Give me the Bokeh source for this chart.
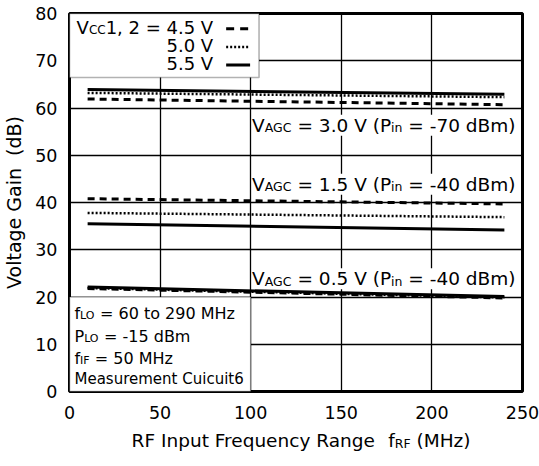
from bokeh.plotting import figure
from bokeh.layouts import column
from bokeh.models import Label, BoxAnnotation, Range1d, FixedTicker
from bokeh.core.properties import value
from bokeh.embed import file_html
from bokeh.resources import INLINE

# ---------------- data ----------------
freq = [10, 240]                      # MHz (line end points)
# VAGC = 3.0 V (Pin = -70 dBm)
g30_45 = [61.9, 60.7]
g30_50 = [63.2, 62.3]
g30_55 = [63.9, 62.9]
# VAGC = 1.5 V (Pin = -40 dBm)
g15_45 = [40.8, 39.7]
g15_50 = [37.8, 36.9]
g15_55 = [35.5, 34.2]
# VAGC = 0.5 V (Pin = -40 dBm)
g05_45 = [21.8, 19.8]
g05_50 = [21.9, 19.9]
g05_55 = [22.1, 20.1]

x_ticks = [0, 50, 100, 150, 200, 250]
y_ticks = [0, 10, 20, 30, 40, 50, 60, 70, 80]

FONT = "DejaVu Sans"
DASH = "7 5"
DOT = "2 2"

# layout of the frame (canvas pixels)
FL, FR, FT, FB = 68, 522, 13, 391
WIDTH = 539
H1, H2 = 424, 42          # main chart + strip holding the x-axis title
XS = (FR - FL) / 250.0
YS = (FB - FT) / 80.0

# DejaVu Sans advance widths (em)
W = {' ': .318, '(': .390, ')': .390, ',': .318, '-': .361, '.': .318, '=': .838,
     'A': .684, 'B': .686, 'C': .698, 'F': .575, 'G': .775, 'I': .295, 'L': .557,
     'M': .863, 'O': .787, 'P': .603, 'R': .695, 'V': .684, 'H': .752,
     'a': .613, 'c': .550, 'd': .635, 'e': .615, 'f': .352, 'i': .278, 'm': .974,
     'n': .634, 'o': .612, 'r': .411, 's': .521, 't': .392, 'u': .634, 'z': .525,
     'g': .635, 'l': .278, 'y': .592, 'q': .635, 'p': .635}
for d in "0123456789":
    W[d] = .636


def tw(s, size):
    return sum(W.get(c, .6) for c in s) * size


p = figure(width=WIDTH, height=H1, x_range=Range1d(0, 250), y_range=Range1d(0, 80),
           output_backend="svg", toolbar_location=None,
           min_border_left=FL, min_border_right=WIDTH - FR,
           min_border_top=FT, min_border_bottom=H1 - FB)
p.background_fill_color = "white"
p.border_fill_color = "white"
p.outline_line_color = "black"
p.outline_line_width = 3

p.xaxis.ticker = FixedTicker(ticks=x_ticks)
p.yaxis.ticker = FixedTicker(ticks=y_ticks)
for ax in (p.xaxis[0], p.yaxis[0]):
    ax.axis_line_color = None
    ax.major_tick_line_color = None
    ax.minor_tick_line_color = None
    ax.major_label_text_font = FONT
    ax.major_label_text_font_size = "17.5px"
    ax.major_label_text_color = "black"
p.xaxis.major_label_standoff = 8
p.yaxis.major_label_standoff = 6
p.yaxis.axis_label = "Voltage Gain\u00a0\u00a0(dB)"
p.yaxis.axis_label_text_font = FONT
p.yaxis.axis_label_text_font_size = "19px"
p.yaxis.axis_label_text_font_style = "normal"
p.yaxis.axis_label_text_color = "black"
p.yaxis.axis_label_standoff = 7

p.grid.grid_line_color = "black"
p.grid.grid_line_width = 1.3
p.grid.grid_line_alpha = 1.0


def rich(xpx, base_px, pieces, align="left", bg=False):
    """pieces drawn side by side; xpx / base_px are canvas pixels (baseline)."""
    total = sum(tw(t, s) for t, s in pieces)
    off = 0 if align == "left" else (-total if align == "right" else -total / 2)
    xd = (xpx - FL) / XS
    for t, s in pieces:
        lead = len(t) - len(t.lstrip(' '))
        txt = t.strip(' ')
        kw = {}
        if bg:
            kw = dict(background_fill_color="white", background_fill_alpha=1.0)
        cy = base_px - 0.36 * s          # visual centre of the capitals
        lab = Label(x=xd, y=(FB - cy) / YS, x_offset=off + tw(t[:lead], s), text=txt,
                    text_font=FONT, text_font_size=f"{s}px", text_color="black",
                    text_align="left", text_baseline="middle", **kw)
        p.add_layout(lab)
        off += tw(t, s)


# boxes
p.add_layout(BoxAnnotation(left=0, right=104.6, bottom=(FB - 77) / YS, top=80, fill_color="white",
                           fill_alpha=1.0, line_color="black", line_width=1.6, level="underlay"))
p.add_layout(BoxAnnotation(left=0, right=100, bottom=0, top=20, fill_color="white",
                           fill_alpha=1.0, line_color="black", line_width=1.6, level="underlay"))

# VAGC labels (white background over grid)
BIG, SM = 18.5, 12.5
rich(515, 131.5, [("V", BIG), ("AGC", SM), (" = 3.0 V (P", BIG), ("in", SM), (" = -70 dBm)", BIG)],
     align="right", bg=True)
rich(515, 190.5, [("V", BIG), ("AGC", SM), (" = 1.5 V (P", BIG), ("in", SM), (" = -40 dBm)", BIG)],
     align="right", bg=True)
rich(515, 285, [("V", BIG), ("AGC", SM), (" = 0.5 V (P", BIG), ("in", SM), (" = -40 dBm)", BIG)],
     align="right", bg=True)

# data lines (drawn above the label backgrounds)
series = [(g30_45, DASH, 3), (g30_50, DOT, 2.5), (g30_55, None, 3),
          (g15_45, DASH, 3), (g15_50, DOT, 2.5), (g15_55, None, 3),
          (g05_45, DASH, 3), (g05_50, DOT, 2.5), (g05_55, None, 3)]
for ys, dash, lw in series:
    kw = dict(line_dash=dash) if dash else {}
    p.line(freq, ys, line_color="black", line_width=lw, level="overlay", **kw)

# legend
rich(212, 33.5, [("V", 18), ("CC", 12), ("1, 2 = 4.5 V", 18)], align="right")
rich(212, 51.5, [("5.0 V", 18)], align="right")
rich(212, 69.5, [("5.5 V", 18)], align="right")
sx0, sx1 = (225 - FL) / XS, (249 - FL) / XS
p.line([sx0, sx1], [(FB - 28.3) / YS] * 2, line_color="black", line_width=3, line_dash="8 6")
p.line([sx0, sx1], [(FB - 46.5) / YS] * 2, line_color="black", line_width=2.5, line_dash=DOT)
p.line([sx0, sx1], [(FB - 64.5) / YS] * 2, line_color="black", line_width=3)

# info box text
rich(73, 319, [("f", 16), ("LO", 11), (" = 60 to 290 MHz", 16)])
rich(73, 342, [("P", 16), ("LO", 11), (" = -15 dBm", 16)])
rich(73, 363.5, [("f", 16), ("IF", 11), (" = 50 MHz", 16)])
rich(73, 384, [("Measurement Cuicuit6", 15)])

# ---- strip below the chart holding the x-axis title (same x mapping as the chart) ----
p2 = figure(width=WIDTH, height=H2, x_range=Range1d(0, 250), y_range=Range1d(0, H2),
            output_backend="svg", toolbar_location=None,
            min_border_left=FL, min_border_right=WIDTH - FR, min_border_top=0, min_border_bottom=0)
p2.xaxis.visible = False
p2.yaxis.visible = False
p2.grid.visible = False
p2.outline_line_color = None
p2.background_fill_color = "white"
p2.border_fill_color = "white"

title_pieces = [("RF Input Frequency Range", 18.5), ("  f", 18.5), ("RF", 12.5), (" (MHz)", 18.5)]
TBASE = 447 - H1            # baseline, pixels from top of the strip
total = sum(tw(t, s) for t, s in title_pieces)
xo = 300 - total / 2
for t, s in title_pieces:
    lead = len(t) - len(t.lstrip(' '))
    cy = TBASE - 0.36 * s
    p2.text(x=[(xo + tw(t[:lead], s) - FL) / XS], y=[H2 - cy], text=[t.strip(' ')],
            text_font=value(FONT), text_font_size=f"{s}px", text_color="black",
            text_align="left", text_baseline="middle")
    xo += tw(t, s)

layout = column(p, p2, spacing=0)
open("out.html", "w").write(file_html(layout, INLINE))
